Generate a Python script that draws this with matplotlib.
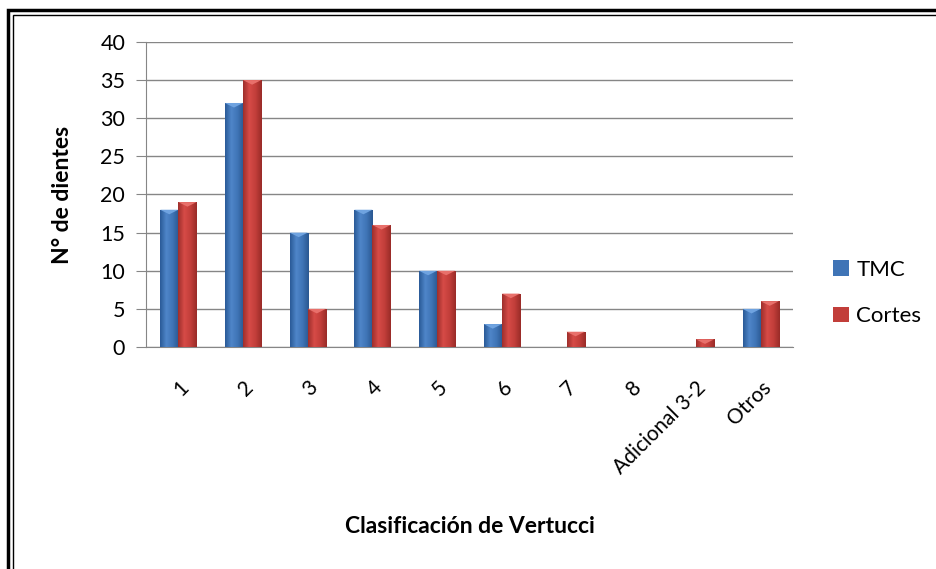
import numpy as np
import matplotlib.pyplot as plt
from matplotlib.patches import Rectangle, Polygon
from matplotlib.colors import LinearSegmentedColormap

plt.rcParams['font.family'] = ['Lato', 'DejaVu Sans']

categories = ['1', '2', '3', '4', '5', '6', '7', '8', 'Adicional 3-2', 'Otros']
tmc = [18, 32, 15, 18, 10, 3, 0, 0, 0, 5]
cortes = [19, 35, 5, 16, 10, 7, 2, 0, 1, 6]

blue_cmap = LinearSegmentedColormap.from_list('b', ['#2a5a97', '#4f86c9', '#3f74b6', '#2a5891'])
red_cmap = LinearSegmentedColormap.from_list('r', ['#9e2f2c', '#d64b47', '#c23e3a', '#992b28'])

fig = plt.figure(figsize=(9.37, 5.69), dpi=100)
ax = fig.add_axes([0.1558, 0.3902, 0.6905, 0.536])

x = np.arange(len(categories))
w = 0.28
bars_t = ax.bar(x - w / 2, tmc, w, color='#3f74b6', zorder=3, label='TMC')
bars_c = ax.bar(x + w / 2, cortes, w, color='#c23e3a', zorder=3, label='Cortes')

grad = np.linspace(0, 1, 64).reshape(1, -1)
for bars, cmap, top in ((bars_t, blue_cmap, '#6fa3e0'), (bars_c, red_cmap, '#e8706b')):
    for p in bars:
        h = p.get_height()
        if h <= 0:
            continue
        x0 = p.get_x()
        bw = p.get_width()
        im = ax.imshow(grad, cmap=cmap, aspect='auto', extent=(x0, x0 + bw, 0, h), zorder=4)
        im.set_clip_path(p)
        # small bevel on the top face
        d = min(0.6, h)
        ax.add_patch(Polygon([(x0, h), (x0 + bw, h), (x0 + bw / 2, h - d)],
                             closed=True, color=top, zorder=5, lw=0))

ax.set_xlim(-0.5, 9.5)
ax.set_ylim(0, 40)
ax.set_yticks(range(0, 41, 5))
ax.set_xticks(x)
ax.set_xticklabels(categories, rotation=45, ha='right', rotation_mode='anchor', fontsize=15)
ax.tick_params(axis='y', labelsize=15.5, length=7, color='#868686', pad=8)
ax.tick_params(axis='x', length=0, pad=22)
ax.grid(axis='y', color='#868686', lw=1, zorder=0)
for s in ('top', 'right'):
    ax.spines[s].set_visible(False)
for s in ('left', 'bottom'):
    ax.spines[s].set_color('#868686')

ax.set_ylabel('N° de dientes', fontsize=16.5, fontweight='bold')
ax.yaxis.set_label_coords(-0.113, 0.5)
fig.text(0.502, 0.074, 'Clasificación de Vertucci', fontsize=16.5, fontweight='bold',
         ha='center', va='center')

ax.legend(loc='center left', bbox_to_anchor=(1.062, 0.177), frameon=False, fontsize=16,
          handlelength=0.7, handleheight=0.7, labelspacing=1.2, handletextpad=0.35,
          borderpad=0, borderaxespad=0)

# double border around the chart
fig.patches.append(Rectangle((0.009, -0.1), 1.2, 1.082, transform=fig.transFigure,
                             fill=False, ec='black', lw=2.5))
fig.patches.append(Rectangle((0.014, -0.1), 1.2, 1.073, transform=fig.transFigure,
                             fill=False, ec='black', lw=1))

fig.savefig('out.png', dpi=100)
